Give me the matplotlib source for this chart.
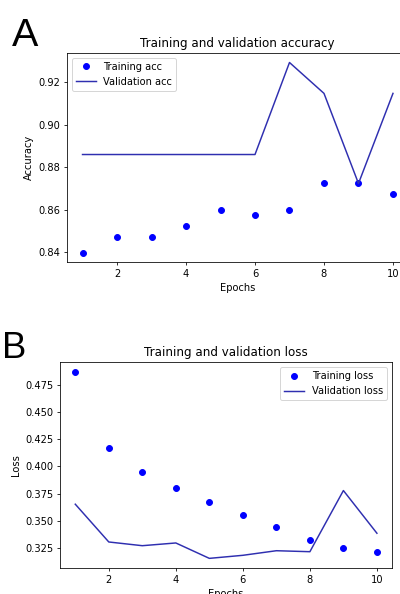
import matplotlib
matplotlib.use("Agg")
import matplotlib.pyplot as plt

epochs = [1, 2, 3, 4, 5, 6, 7, 8, 9, 10]
train_acc = [0.8400, 0.8475, 0.8475, 0.8525, 0.8600, 0.8574, 0.8600, 0.8724, 0.8724, 0.8673]
val_acc = [0.8860, 0.8860, 0.8860, 0.8860, 0.8860, 0.8860, 0.9292, 0.9147, 0.8724, 0.9147]
train_loss = [0.4868, 0.4169, 0.3951, 0.3804, 0.3673, 0.3553, 0.3449, 0.3329, 0.3250, 0.3216]
val_loss = [0.3654, 0.3308, 0.3274, 0.3299, 0.3158, 0.3186, 0.3228, 0.3219, 0.3779, 0.3388]

DPI = 71
W, H = 400, 594
fig = plt.figure(figsize=(W / DPI, H / DPI), dpi=DPI)

def px_axes(l, t, r, b):
    return fig.add_axes([l / W, 1 - b / H, (r - l) / W, (b - t) / H])

line_color = '#2f2fb0'

ax1 = px_axes(67, 53, 408.5, 262)
ax1.plot(epochs, train_acc, 'bo', label='Training acc')
ax1.plot(epochs, val_acc, color=line_color, label='Validation acc')
ax1.set_title('Training and validation accuracy')
ax1.set_xlabel('Epochs')
ax1.set_ylabel('Accuracy')
ax1.legend(loc='upper left')

ax2 = px_axes(60.2, 362.3, 392, 567.7)
ax2.plot(epochs, train_loss, 'bo', label='Training loss')
ax2.plot(epochs, val_loss, color=line_color, label='Validation loss')
ax2.set_title('Training and validation loss')
ax2.set_xlabel('Epochs')
ax2.set_ylabel('Loss')
ax2.legend(loc='upper right')

fig.text(12 / W, 1 - 46 / H, 'A', fontsize=40, family='Liberation Sans',
         ha='left', va='baseline')
fig.text(2 / W, 1 - 358 / H, 'B', fontsize=37, family='Liberation Sans',
         ha='left', va='baseline')

fig.savefig('out.png', dpi=DPI)
